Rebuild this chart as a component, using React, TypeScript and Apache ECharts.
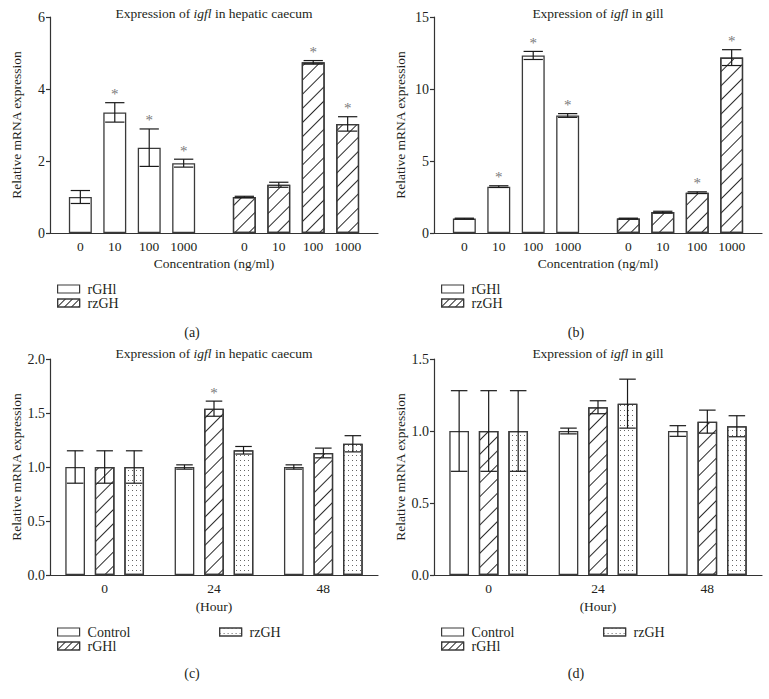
import React, { useEffect, useRef } from 'react';
import * as echarts from 'echarts';

// ---------- data ----------
const concentrations = ['0', '10', '100', '1000'];
const treatments = ['rGHl', 'rzGH'];
const hours = ['0', '24', '48'];
const hourGroups = ['Control', 'rGHl', 'rzGH'];

// (a) hepatic caecum, by concentration
const caecumRGHl = [1.0, 3.35, 2.37, 1.94];
const caecumRGHlErr = [0.18, 0.27, 0.52, 0.11];
const caecumRGHlSig = [0, 1, 1, 1];
const caecumRzGH = [1.0, 1.34, 4.74, 3.03];
const caecumRzGHErr = [0.02, 0.07, 0.05, 0.2];
const caecumRzGHSig = [0, 0, 1, 1];

// (b) gill, by concentration
const gillRGHl = [1.0, 3.22, 12.33, 8.16];
const gillRGHlErr = [0.03, 0.06, 0.28, 0.13];
const gillRGHlSig = [0, 1, 1, 1];
const gillRzGH = [1.0, 1.45, 2.8, 12.18];
const gillRzGHErr = [0.03, 0.06, 0.06, 0.55];
const gillRzGHSig = [0, 0, 1, 1];

// (c) hepatic caecum, by hour
const caecumHourControl = [1.0, 1.0, 1.0];
const caecumHourControlErr = [0.15, 0.02, 0.02];
const caecumHourRGHl = [1.0, 1.54, 1.13];
const caecumHourRGHlErr = [0.15, 0.07, 0.045];
const caecumHourRGHlSig = [0, 1, 0];
const caecumHourRzGH = [1.0, 1.155, 1.215];
const caecumHourRzGHErr = [0.15, 0.035, 0.075];

// (d) gill, by hour
const gillHourControl = [1.0, 1.0, 1.0];
const gillHourControlErr = [0.28, 0.02, 0.037];
const gillHourRGHl = [1.0, 1.165, 1.065];
const gillHourRGHlErr = [0.28, 0.045, 0.08];
const gillHourRzGH = [1.0, 1.19, 1.033];
const gillHourRzGHErr = [0.28, 0.17, 0.073];

const yTicksA = { min: 0, max: 6, interval: 2 };
const yTicksB = { min: 0, max: 15, interval: 5 };
const yTicksC = { min: 0, max: 2, interval: 0.5 };
const yTicksD = { min: 0, max: 1.5, interval: 0.5 };

// ---------- styles ----------
const FONT = 'Liberation Serif, DejaVu Serif, serif';
const TXT = '#231f20';
const EDGE = '#3a3a3a';

const HATCH: any = {
  symbol: 'rect', symbolSize: 1, dashArrayX: [1, 0], dashArrayY: [1, 9],
  rotation: -Math.PI / 4, color: '#2a2a2a',
};
const LEGEND_HATCH: any = {
  symbol: 'rect', symbolSize: 1, dashArrayX: [1, 0], dashArrayY: [1, 4],
  rotation: -Math.PI / 4, color: '#2a2a2a',
};
const DOTS: any = {
  symbol: 'rect', symbolSize: 1, dashArrayX: [1, 3], dashArrayY: [1, 4], color: '#666',
};

const barItemStyle = { color: '#fff', borderColor: EDGE, borderWidth: 1.3 };
const STAR = '#7a7a7a';

const grids = [
  { left: 50, top: 17, width: 328, height: 216 },
  { left: 434, top: 17, width: 328, height: 216 },
  { left: 50, top: 359, width: 328, height: 216 },
  { left: 434, top: 359, width: 328, height: 216 },
];

function errorSeries(gi: number, n: number, wRatio: number, gRatio: number, rows: number[][]) {
  return {
    type: 'custom',
    xAxisIndex: gi,
    yAxisIndex: gi,
    z: 5,
    encode: { x: 0, y: 2 },
    data: rows,
    silent: true,
    itemStyle: { color: STAR },
    renderItem: (params: any, api: any) => {
      const cat = api.value(0);
      const k = api.value(1);
      const v = api.value(2);
      const e = api.value(3);
      const sig = api.value(4);
      const c = api.coord([cat, v]);
      const band = api.size([1, 0])[0];
      const bw = band * wRatio;
      const step = bw * (1 + gRatio);
      const x = c[0] + (k - (n - 1) / 2) * step;
      const yT = api.coord([cat, v + e])[1];
      const yB = api.coord([cat, v - e])[1];
      const cap = bw * 0.42;
      const ls = { stroke: '#1a1a1a', lineWidth: 1.2, fill: null };
      const children: any[] = [
        { type: 'line', shape: { x1: x, y1: yT, x2: x, y2: yB }, style: ls },
        { type: 'line', shape: { x1: x - cap, y1: yT, x2: x + cap, y2: yT }, style: ls },
        { type: 'line', shape: { x1: x - cap, y1: yB, x2: x + cap, y2: yB }, style: ls },
      ];
      if (sig) {
        children.push({
          type: 'text', x, y: yT - 1,
          style: { text: '*', fill: STAR, fontFamily: FONT, fontSize: 15, align: 'center', verticalAlign: 'bottom' },
        });
      }
      return { type: 'group', children };
    },
  };
}

function buildOption() {
  const axisLine = { show: true, lineStyle: { color: '#333', width: 1.2 } };
  const labelStyle = { color: TXT, fontFamily: FONT, fontSize: 13 };
  const yAxisFor = (gi: number, t: any, dec: number) => ({
    type: 'value', gridIndex: gi, min: t.min, max: t.max, interval: t.interval,
    axisLine, splitLine: { show: false },
    axisTick: { show: true, length: 4, lineStyle: { color: '#333', width: 1.2 } },
    axisLabel: { ...labelStyle, fontSize: 14, margin: 5, formatter: (v: number) => v.toFixed(dec) },
    name: 'Relative mRNA expression', nameLocation: 'middle', nameGap: 27,
    nameTextStyle: { ...labelStyle, fontSize: 13.5 },
  });
  const xAxisConc = (gi: number) => ({
    type: 'category', gridIndex: gi, data: treatments,
    axisLine, axisTick: { show: false }, axisLabel: { show: false },
    name: 'Concentration (ng/ml)', nameLocation: 'middle', nameGap: 23,
    nameTextStyle: { ...labelStyle, fontSize: 13.5 },
  });
  const xAxisHour = (gi: number) => ({
    type: 'category', gridIndex: gi, data: hours,
    axisLine, axisTick: { show: false }, axisLabel: { ...labelStyle, fontSize: 13.5, margin: 6 },
    name: '(Hour)', nameLocation: 'middle', nameGap: 24,
    nameTextStyle: { ...labelStyle, fontSize: 13.5 },
  });

  const series: any[] = [];
  const hourPanels = [
    { gi: 2, vals: [caecumHourControl, caecumHourRGHl, caecumHourRzGH], errs: [caecumHourControlErr, caecumHourRGHlErr, caecumHourRzGHErr], sig: [[0, 0, 0], caecumHourRGHlSig, [0, 0, 0]] },
    { gi: 3, vals: [gillHourControl, gillHourRGHl, gillHourRzGH], errs: [gillHourControlErr, gillHourRGHlErr, gillHourRzGHErr], sig: [[0, 0, 0], [0, 0, 0], [0, 0, 0]] },
  ];
  const decals = [undefined, HATCH, DOTS];
  hourPanels.forEach((p) => {
    hourGroups.forEach((g, k) => {
      series.push({
        type: 'bar', name: g, xAxisIndex: p.gi, yAxisIndex: p.gi,
        barWidth: '18%', barGap: '50%',
        itemStyle: decals[k] ? { ...barItemStyle, decal: decals[k] } : { ...barItemStyle },
        data: p.vals[k],
        silent: true,
      });
    });
    const rows: number[][] = [];
    hourGroups.forEach((g, k) => {
      hours.forEach((h, ci) => rows.push([ci, k, p.vals[k][ci], p.errs[k][ci], p.sig[k][ci]]));
    });
    series.push(errorSeries(p.gi, 3, 0.18, 0.5, rows));
  });

  const concPanels = [
    { gi: 0, a: caecumRGHl, ae: caecumRGHlErr, as: caecumRGHlSig, b: caecumRzGH, be: caecumRzGHErr, bs: caecumRzGHSig },
    { gi: 1, a: gillRGHl, ae: gillRGHlErr, as: gillRGHlSig, b: gillRzGH, be: gillRzGHErr, bs: gillRzGHSig },
  ];
  concPanels.forEach((p) => {
    concentrations.forEach((c, k) => {
      series.push({
        type: 'bar', name: c, xAxisIndex: p.gi, yAxisIndex: p.gi,
        barWidth: '14%', barGap: '50%', silent: true,
        itemStyle: { ...barItemStyle },
        label: { show: true, position: 'bottom', distance: 6, formatter: '{a}', ...labelStyle, fontSize: 13.5 },
        data: [{ value: p.a[k] }, { value: p.b[k], itemStyle: { decal: HATCH } }],
      });
    });
    const rows: number[][] = [];
    concentrations.forEach((c, k) => {
      rows.push([0, k, p.a[k], p.ae[k], p.as[k]]);
      rows.push([1, k, p.b[k], p.be[k], p.bs[k]]);
    });
    series.push(errorSeries(p.gi, 4, 0.14, 0.5, rows));
  });

  const titleStyle = (size: number) => ({
    fontFamily: FONT, fontSize: size, fontWeight: 'normal', color: TXT,
    rich: { i: { fontFamily: FONT, fontSize: size, fontStyle: 'italic', color: TXT } },
  });
  const mkTitle = (text: string, left: number, top: number, size = 13.5) => ({
    text, left, top, textAlign: 'center', padding: 0, textStyle: titleStyle(size),
  });

  const legendBase = {
    orient: 'vertical', itemWidth: 22, itemHeight: 8, itemGap: 0, selectedMode: false, icon: 'rect',
    itemStyle: { borderWidth: 1.2, borderColor: EDGE },
    textStyle: { color: TXT, fontFamily: FONT, fontSize: 14, lineHeight: 14, padding: [0, 0, 0, 3] },
  };

  return {
    animation: false,
    backgroundColor: '#fff',
    title: [
      mkTitle('Expression of {i|igfl} in hepatic caecum', 214, 6),
      mkTitle('Expression of {i|igfl} in gill', 598, 6),
      mkTitle('Expression of {i|igfl} in hepatic caecum', 214, 346),
      mkTitle('Expression of {i|igfl} in gill', 598, 346),
      mkTitle('(a)', 192, 325, 14),
      mkTitle('(b)', 576, 325, 14),
      mkTitle('(c)', 192, 666, 14),
      mkTitle('(d)', 576, 666, 14),
    ],
    legend: [
      { ...legendBase, left: 52, top: 277, data: [{ name: 'rGHl', itemStyle: { decal: 'none' } }, { name: 'rzGH', itemStyle: { decal: LEGEND_HATCH } }] },
      { ...legendBase, left: 436, top: 277, data: [{ name: 'rGHl', itemStyle: { decal: 'none' } }, { name: 'rzGH', itemStyle: { decal: LEGEND_HATCH } }] },
      { ...legendBase, left: 52, top: 620, data: [{ name: 'Control' }, { name: 'rGHl', itemStyle: { decal: LEGEND_HATCH } }] },
      { ...legendBase, left: 214, top: 620, data: [{ name: 'rzGH' }] },
      { ...legendBase, left: 436, top: 620, data: [{ name: 'Control' }, { name: 'rGHl', itemStyle: { decal: LEGEND_HATCH } }] },
      { ...legendBase, left: 598, top: 620, data: [{ name: 'rzGH' }] },
    ],
    grid: grids.map((g) => ({ ...g, containLabel: false, outerBoundsMode: 'none' })),
    xAxis: [xAxisConc(0), xAxisConc(1), xAxisHour(2), xAxisHour(3)],
    yAxis: [yAxisFor(0, yTicksA, 0), yAxisFor(1, yTicksB, 0), yAxisFor(2, yTicksC, 1), yAxisFor(3, yTicksD, 1)],
    series,
  };
}

export default function App() {
  const ref = useRef<HTMLDivElement>(null);
  useEffect(() => {
    if (!ref.current) return;
    const chart = echarts.init(ref.current, null, { renderer: 'svg' });
    chart.setOption(buildOption() as any);
    return () => chart.dispose();
  }, []);
  return (
    <div
      ref={ref}
      style={{ position: 'fixed', left: 0, top: 0, width: 769, height: 699, background: '#fff' }}
    />
  );
}
